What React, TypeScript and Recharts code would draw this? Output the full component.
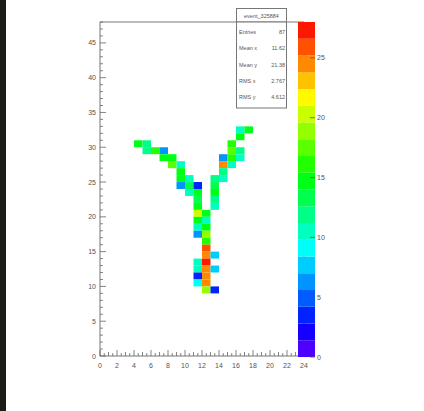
import { ComposedChart, XAxis, YAxis, ReferenceArea, Scatter } from "recharts";

// cell (bin) lower-left corners and contents
const cellX = [
  4, 5, 5, 6, 7, 7, 8, 8, 9, 9, 9, 10, 9, 10, 11,
  10, 11, 11, 11, 11, 12, 11, 12, 11, 12, 11, 12, 12, 12, 12, 13, 11, 12, 11, 12, 13, 11, 12, 11, 12, 12, 13,
  16, 17, 16, 15, 15, 16, 14, 15, 16, 14, 15, 14, 13, 14, 13, 13, 13, 13,
];
const cellY = [
  30, 30, 29, 29, 29, 28, 28, 27, 27, 26, 25, 25, 24, 24, 24,
  23, 23, 22, 21, 20, 20, 19, 19, 18, 18, 17, 17, 16, 15, 14, 14, 13, 13, 12, 12, 12, 11, 11, 10, 10, 9, 9,
  32, 32, 31, 30, 29, 29, 28, 28, 28, 27, 27, 26, 25, 25, 24, 23, 22, 21,
];
const cellZ = [
  14, 12, 12, 16, 6, 15, 15, 18, 10, 15, 15, 10, 6, 13.5, 3,
  10, 14, 13, 14, 20, 15, 15, 11, 10, 14, 6, 19, 16, 26, 25, 7, 10, 28, 10, 25, 7, 4, 25, 9, 25, 19, 3,
  11, 14, 14.5, 16, 17, 11.5, 6, 16, 11, 24, 10.5, 12.5, 12, 10, 13, 14, 12.5, 11,
];

const xLabels = [0, 2, 4, 6, 8, 10, 12, 14, 16, 18, 20, 22, 24];
const yLabels = [0, 5, 10, 15, 20, 25, 30, 35, 40, 45];
const zLabels = [0, 5, 10, 15, 20, 25];

const statsTitle = "event_325884";
const statNames = ["Entries", "Mean x", "Mean y", "RMS x", "RMS y"];
const statValues = ["87", "11.62", "21.38", "2.767", "4.612"];

const X_MAX = 24;
const Y_MAX = 48;
const Z_MAX = 28;
const N_CONTOURS = 20;
const FONT = "'Liberation Sans', Arial, sans-serif";
const TXT = "#555";

function bandColor(k: number) {
  const mid = ((k + 0.5) * Z_MAX) / N_CONTOURS;
  return `hsl(${265 - 9.5 * mid}, 100%, 50%)`;
}

function cellColor(z: number) {
  const k = Math.min(N_CONTOURS - 1, Math.floor(z / (Z_MAX / N_CONTOURS)));
  return bandColor(k);
}

const cells = cellX.map((x, i) => ({ x, y: cellY[i], z: cellZ[i] }));
const centers = cells.map((c) => ({ cx: c.x + 0.5, cy: c.y + 0.5 }));

const xTicks: number[] = [];
for (let v = 0; v <= X_MAX; v += 0.5) xTicks.push(v);
const yTicks: number[] = [];
for (let v = 0; v <= Y_MAX; v += 1) yTicks.push(v);
const bands: number[] = [];
for (let k = 0; k < N_CONTOURS; k++) bands.push(k);
const bandMids = bands.map((k) => ({ bx: 0.5, bz: ((k + 0.5) * Z_MAX) / N_CONTOURS }));

function XTick(props: any) {
  const { x, y, payload } = props;
  const v = payload.value;
  const major = xLabels.includes(v);
  const len = major ? 6 : Number.isInteger(v) ? 4 : 3;
  return (
    <g>
      <line x1={x} x2={x} y1={y} y2={y - len} stroke="#666" strokeWidth={0.8} />
      {major && (
        <text x={x} y={y + 12} textAnchor="middle" fontSize={7} fill={TXT} fontFamily={FONT}>
          {v}
        </text>
      )}
    </g>
  );
}

function YTick(props: any) {
  const { x, y, payload } = props;
  const v = payload.value;
  const major = yLabels.includes(v);
  const len = major ? 6 : 3;
  return (
    <g>
      <line x1={x} x2={x + len} y1={y} y2={y} stroke="#666" strokeWidth={0.8} />
      {major && (
        <text x={x - 4} y={y + 2.5} textAnchor="end" fontSize={7} fill={TXT} fontFamily={FONT}>
          {v}
        </text>
      )}
    </g>
  );
}

function ZTick(props: any) {
  const { x, y, payload } = props;
  return (
    <g>
      <line x1={x - 5} x2={x} y1={y} y2={y} stroke="#555" strokeWidth={0.8} />
      <text x={x + 2} y={y + 2.5} textAnchor="start" fontSize={7} fill={TXT} fontFamily={FONT}>
        {payload.value}
      </text>
    </g>
  );
}

export default function App() {
  return (
    <div
      style={{
        position: "absolute",
        left: 0,
        top: 0,
        width: 424,
        height: 411,
        background: "#fff",
        overflow: "hidden",
      }}
    >
      <div style={{ position: "absolute", left: 0, top: 0, width: 6, height: 411, background: "#1c1b15" }} />

      {/* main histogram */}
      <div style={{ position: "absolute", left: 0, top: 0 }}>
        <ComposedChart width={424} height={411} margin={{ left: 70, right: 120, top: 22, bottom: 35 }}>
          <XAxis
            type="number"
            dataKey="cx"
            domain={[0, X_MAX]}
            ticks={xTicks}
            interval={0}
            height={20}
            tickSize={0}
            tickMargin={0}
            tickLine={false}
            axisLine={false}
            tick={(p: any) => <XTick {...p} />}
            allowDataOverflow
          />
          <YAxis
            type="number"
            dataKey="cy"
            domain={[0, Y_MAX]}
            ticks={yTicks}
            interval={0}
            width={30}
            tickSize={0}
            tickMargin={0}
            tickLine={false}
            axisLine={false}
            tick={(p: any) => <YTick {...p} />}
            allowDataOverflow
          />
          <ReferenceArea x1={0} x2={X_MAX} y1={0} y2={Y_MAX} fill="#fff" fillOpacity={0} stroke="#777" strokeWidth={1} />
          {cells.map((c, i) => (
            <ReferenceArea
              key={i}
              x1={c.x}
              x2={c.x + 1}
              y1={c.y}
              y2={c.y + 1}
              fill={cellColor(c.z)}
              fillOpacity={1}
              stroke="none"
            />
          ))}
          <Scatter data={centers} dataKey="cy" shape={() => <g />} isAnimationActive={false} />
        </ComposedChart>
      </div>

      {/* colour palette */}
      <div style={{ position: "absolute", left: 0, top: 0 }}>
        <ComposedChart width={424} height={411} margin={{ left: 298, right: 89, top: 22, bottom: 54 }}>
          <XAxis type="number" dataKey="bx" domain={[0, 1]} hide />
          <YAxis
            type="number"
            dataKey="bz"
            orientation="right"
            domain={[0, Z_MAX]}
            ticks={zLabels}
            interval={0}
            width={20}
            tickSize={0}
            tickMargin={0}
            tickLine={false}
            axisLine={false}
            tick={(p: any) => <ZTick {...p} />}
            allowDataOverflow
          />
          {bands.map((k) => (
            <ReferenceArea
              key={k}
              x1={0}
              x2={1}
              y1={(k * Z_MAX) / N_CONTOURS}
              y2={((k + 1) * Z_MAX) / N_CONTOURS}
              fill={bandColor(k)}
              fillOpacity={1}
              stroke="none"
            />
          ))}
          <Scatter data={bandMids} dataKey="bz" shape={() => <g />} isAnimationActive={false} />
        </ComposedChart>
      </div>

      {/* stats box */}
      <svg width={424} height={411} style={{ position: "absolute", left: 0, top: 0 }}>
        <rect x={236.5} y={8.5} width={50} height={13.5} fill="#fff" stroke="#777" />
        <text x={261.5} y={17.5} textAnchor="middle" fontSize={5.5} fill={TXT} fontFamily={FONT}>
          {statsTitle}
        </text>
        <rect x={236.5} y={22} width={50} height={86} fill="#fff" stroke="#777" />
        {statNames.map((n, i) => (
          <g key={n}>
            <text x={239} y={34 + i * 16.3} fontSize={5.5} fill={TXT} fontFamily={FONT}>
              {n}
            </text>
            <text x={285} y={34 + i * 16.3} textAnchor="end" fontSize={5.5} fill={TXT} fontFamily={FONT}>
              {statValues[i]}
            </text>
          </g>
        ))}
      </svg>
    </div>
  );
}
